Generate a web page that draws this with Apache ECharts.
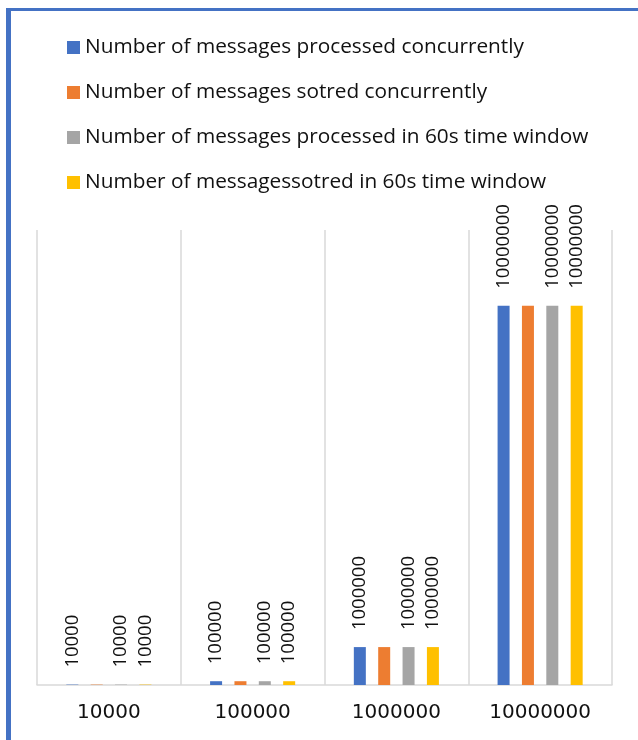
<!DOCTYPE html>
<html>
<head>
<meta charset="utf-8">
<script src="https://cdn.jsdelivr.net/npm/echarts@6/dist/echarts.min.js"></script>
<style>
html,body{margin:0;padding:0;background:#fff;}
#c{width:638px;height:740px;}
</style>
</head>
<body>
<div id="c"></div>
<script>
const categories = ['10000', '100000', '1000000', '10000000'];
const seriesNames = [
  'Number of messages processed concurrently',
  'Number of messages sotred concurrently',
  'Number of messages processed in 60s time window',
  'Number of messagessotred in 60s time window'
];
const processedConcurrently = [10000, 100000, 1000000, 10000000];
const storedConcurrently = [10000, 100000, 1000000, 10000000];
const processedWindow = [10000, 100000, 1000000, 10000000];
const storedWindow = [10000, 100000, 1000000, 10000000];
const showLabels = [true, false, true, true];
const colors = ['#4472C4', '#ED7D31', '#A5A5A5', '#FFC000'];

const seriesData = [processedConcurrently, storedConcurrently, processedWindow, storedWindow];

const chart = echarts.init(document.getElementById('c'), null, {renderer: 'canvas'});
chart.setOption({
  animation: false,
  backgroundColor: '#fff',
  color: colors,
  graphic: [
    {type: 'rect', shape: {x: 6, y: 8, width: 640, height: 3}, style: {fill: '#4472C4'}, z: 100},
    {type: 'rect', shape: {x: 6, y: 8, width: 5, height: 740}, style: {fill: '#4472C4'}, z: 100}
  ],
  legend: {
    orient: 'vertical',
    left: 62,
    top: 32,
    itemWidth: 13,
    itemHeight: 13,
    itemGap: 24,
    icon: 'rect',
    textStyle: {fontFamily: 'Open Sans', fontSize: 20.8, color: '#111', lineHeight: 21},
    data: seriesNames
  },
  grid: {left: 37, right: 26, top: 230, bottom: 55, containLabel: false},
  xAxis: {
    type: 'category',
    data: categories,
    axisLine: {show: true, lineStyle: {color: '#d9d9d9', width: 1.5}},
    axisTick: {show: false},
    splitLine: {show: true, lineStyle: {color: '#d9d9d9', width: 1.5}},
    axisLabel: {fontFamily: 'DejaVu Sans', fontSize: 20, color: '#111', margin: 18}
  },
  yAxis: {
    type: 'value',
    min: 0,
    max: 12000000,
    show: false,
    splitLine: {show: false}
  },
  series: seriesData.map((d, i) => ({
    name: seriesNames[i],
    type: 'bar',
    data: d,
    barWidth: 12,
    barGap: '103%',
    label: {
      show: showLabels[i],
      position: 'top',
      rotate: 90,
      align: 'left',
      verticalAlign: 'middle',
      distance: 17,
      fontFamily: 'Open Sans',
      fontSize: 18.5,
      color: '#111'
    }
  }))
});
</script>
</body>
</html>
